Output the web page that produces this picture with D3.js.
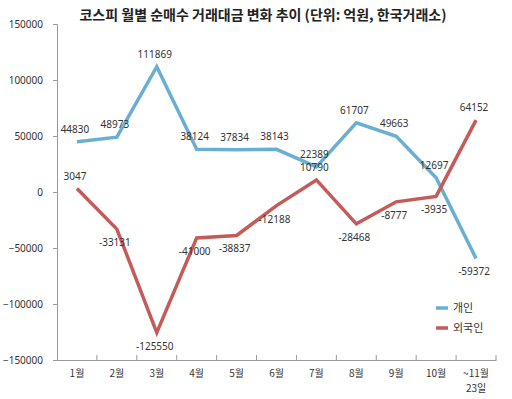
<!DOCTYPE html>
<html><head><meta charset="utf-8">
<script src="https://cdn.jsdelivr.net/npm/d3@7"></script>
<style>body{margin:0;background:#fff;}svg{display:block;font-family:"Noto Sans CJK KR","Noto Sans",sans-serif;}</style>
</head><body><svg id="c" width="512" height="399"></svg>
<script>
const months = ["1월","2월","3월","4월","5월","6월","7월","8월","9월","10월","~11월|23일"];
const individual = [44830,48973,111869,38124,37834,38143,22389,61707,49663,12697,-59372];
const foreign = [3047,-33131,-125550,-41000,-38837,-12188,10790,-28468,-8777,-3935,64152];
const indivLabelPos = ["a","a","a","a","a","a","a","a","a","a","b"];
const foreignLabelPos = ["a","b","b","b","b","b","a","b","b","b","a"];
const yTicks = [150000,100000,50000,0,-50000,-100000,-150000];
const seriesNames = ["개인","외국인"];
const colors = ["#6aafd2","#c55b58"];

const svg = d3.select("#c");
const x = d3.scaleBand().domain(months).range([57,496]);
const y = d3.scaleLinear().domain([-150000,150000]).range([360,24]);

svg.append("text").attr("x",263).attr("y",20).attr("text-anchor","middle")
  .attr("font-size",14).attr("font-weight","bold").attr("fill","#222")
  .text("코스피 월별 순매수 거래대금 변화 추이 (단위: 억원, 한국거래소)");

// y axis
const ya = svg.append("g").attr("transform","translate(57,0)")
  .call(d3.axisLeft(y).tickValues(yTicks).tickSize(4).tickPadding(10).tickFormat(d3.format("d")));
ya.select(".domain").attr("stroke","#999");
ya.selectAll(".tick line").attr("stroke","#999");
ya.selectAll(".tick text").attr("font-size",10).attr("fill","#333").attr("font-family","'Noto Sans',sans-serif");

// x axis
const xa = svg.append("g").attr("transform","translate(0,360)")
  .call(d3.axisBottom(x).tickSize(0).tickFormat(""));
xa.select(".domain").attr("stroke","#999");
xa.selectAll(".tick").remove();
const bounds = months.map(m=>x(m)).concat([x.range()[1]]);
svg.append("g").selectAll("line").data(bounds.slice(1)).join("line")
  .attr("x1",d=>d).attr("x2",d=>d).attr("y1",355).attr("y2",360).attr("stroke","#999");
const xl = svg.append("g").selectAll("text").data(months).join("text")
  .attr("x",d=>x(d)+x.bandwidth()/2).attr("y",377).attr("text-anchor","middle")
  .attr("font-size",10).attr("fill","#333");
xl.each(function(d){
  const parts = d.split("|");
  const t = d3.select(this);
  parts.forEach((p,i)=>t.append("tspan").attr("x",x(d)+x.bandwidth()/2).attr("dy",i?15:0).text(p));
});

const cx = d=>x(d)+x.bandwidth()/2;
const line = d3.line().x((d,i)=>cx(months[i])).y(d=>y(d));
[individual,foreign].forEach((s,k)=>{
  svg.append("path").datum(s).attr("d",line).attr("fill","none")
    .attr("stroke",colors[k]).attr("stroke-width",3.5).attr("stroke-linejoin","miter");
});

function labels(s,pos){
  svg.append("g").selectAll("text").data(s).join("text")
    .attr("x",(d,i)=>cx(months[i])-2)
    .attr("y",(d,i)=>pos[i]==="a"? y(d)-9 : y(d)+17)
    .attr("text-anchor","middle").attr("font-size",10).attr("fill","#333")
    .attr("font-family","'Noto Sans',sans-serif")
    .text(d=>d);
}
labels(individual,indivLabelPos);
labels(foreign,foreignLabelPos);

// legend
const lg = svg.append("g");
seriesNames.forEach((n,k)=>{
  const yy = 308 + k*20;
  lg.append("line").attr("x1",436).attr("x2",448).attr("y1",yy).attr("y2",yy)
    .attr("stroke",colors[k]).attr("stroke-width",3.5);
  lg.append("text").attr("x",453).attr("y",yy+4).attr("font-size",11).attr("fill","#333").text(n);
});
</script></body></html>
